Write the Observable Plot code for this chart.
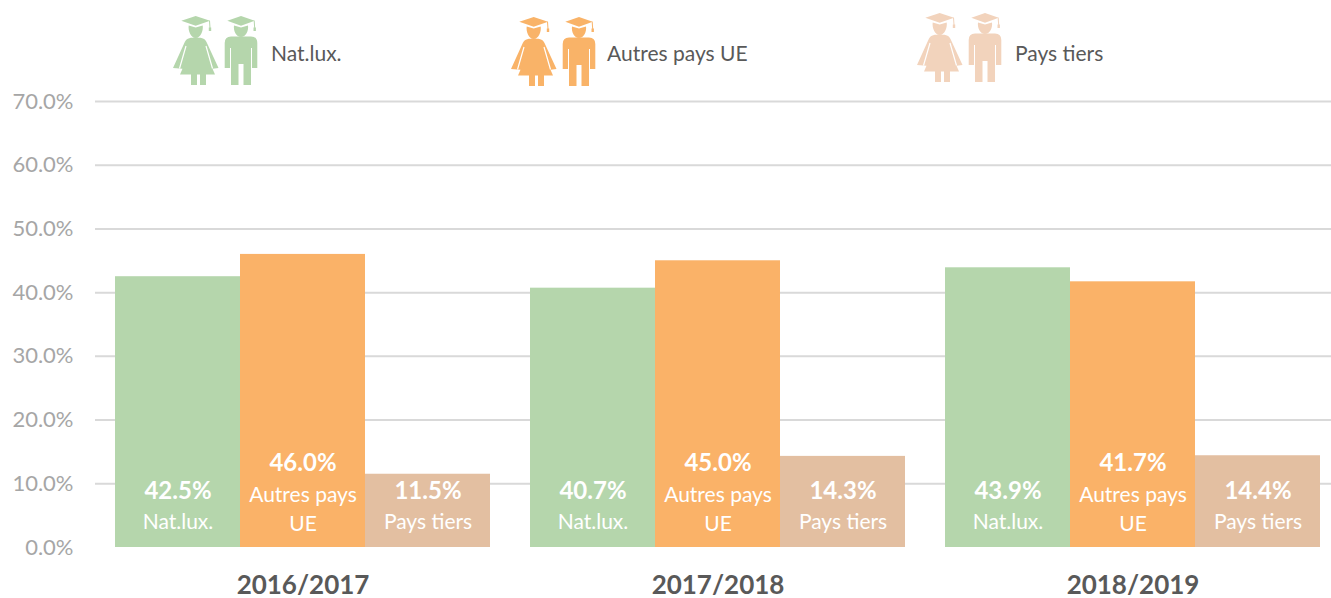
<!DOCTYPE html>
<html lang="fr">
<head>
<meta charset="utf-8">
<script src="https://cdn.jsdelivr.net/npm/d3@7"></script>
<script src="https://cdn.jsdelivr.net/npm/@observablehq/plot@0.6"></script>
<style>
html,body{margin:0;padding:0;background:#fff;overflow:hidden}
#chart{width:1331px;font-family:Lato,sans-serif}
#legend{position:relative;width:1331px;height:90px}
.item{position:absolute;left:0;top:0}
.item svg{position:absolute;overflow:visible}
.item span{position:absolute;font-size:21px;color:#595959;white-space:nowrap;line-height:26px}
#plot svg{display:block}
</style>
</head>
<body>
<div id="chart"><div id="legend"></div><div id="plot"></div></div>
<script>
const years = ["2016/2017", "2017/2018", "2018/2019"];
const categories = ["Nat.lux.", "Autres pays UE", "Pays tiers"];
const wrappedLabels = ["Nat.lux.", "Autres pays\nUE", "Pays tiers"];
const natLux = [42.5, 40.7, 43.9];
const autresUE = [46.0, 45.0, 41.7];
const paysTiers = [11.5, 14.3, 14.4];
const barColors = ["#B5D6AC", "#FAB268", "#E3BFA1"];
const legendColors = ["#B5D6AC", "#F9B368", "#F2D3BC"];
const yTicks = [0, 10, 20, 30, 40, 50, 60, 70];

const series = [natLux, autresUE, paysTiers];
const rows = years.flatMap((year, i) => categories.map((category, j) => ({
  year, category, label: wrappedLabels[j], value: series[j][i]
})));
const oneLine = rows.filter(d => !d.label.includes("\n"));
const twoLines = rows.filter(d => d.label.includes("\n"));
const pct = d => d.toFixed(1) + "%";
const gridRows = years.flatMap(year => yTicks.slice(1).map(tick => ({year, tick})));

const chart = Plot.plot({
  width: 1331,
  height: 508,
  marginTop: 11,
  marginBottom: 51,
  marginLeft: 93,
  marginRight: 0,
  style: {fontFamily: "Lato, sans-serif", background: "#fff"},
  x: {domain: categories, axis: null, padding: 0},
  fx: {domain: years, axis: null, paddingInner: 0.096, paddingOuter: 0.036, align: 0.667},
  y: {domain: [0, 70], axis: null},
  color: {domain: categories, range: barColors},
  marks: [
    Plot.ruleY(gridRows, {fx: "year", y: "tick", insetLeft: -20, insetRight: -20, stroke: "#D9D9D9", strokeWidth: 2}),
    Plot.axisY({ticks: yTicks, tickSize: 0, tickPadding: 42, tickFormat: pct, label: null,
      fontSize: 22, color: "#A6A6A6", fill: "#A6A6A6"}),
    Plot.barY(rows, {fx: "year", x: "category", y: "value", fill: "category"}),
    Plot.text(oneLine, {fx: "year", x: "category", y: 0, text: d => pct(d.value), dy: -56,
      fill: "#fff", fontSize: 24, fontWeight: 700}),
    Plot.text(oneLine, {fx: "year", x: "category", y: 0, text: "label", dy: -25,
      fill: "#fff", fontSize: 21}),
    Plot.text(twoLines, {fx: "year", x: "category", y: 0, text: d => pct(d.value), dy: -84,
      fill: "#fff", fontSize: 24, fontWeight: 700}),
    Plot.text(twoLines, {fx: "year", x: "category", y: 0, text: "label", dy: -40, lineHeight: 1.35,
      fill: "#fff", fontSize: 21}),
    Plot.axisFx({anchor: "bottom", tickSize: 0, tickPadding: 28, label: null,
      fontSize: 26, fontWeight: 700, color: "#595959", fill: "#595959"})
  ]
});
document.getElementById("plot").append(chart);

// Legend: graduate pair pictograms with their labels
const pairIcon = color => `
<path fill="${color}" d="M22.7 0L37 4.7 22.7 9.7 8.3 4.7Z"/>
<path fill="none" stroke="${color}" stroke-width="1" d="M36.5 4.7L37 12"/>
<rect x="35.8" y="11.5" width="2.4" height="3.5" fill="${color}"/>
<path fill="${color}" d="M15.7 9.5L22.7 11.5 29.7 9.5C30.5 15 27.5 22 22.7 22 17.9 22 14.9 15 15.7 9.5Z"/>
<path fill="${color}" d="M22.7 21.5C27 21.5 32 22 33.5 26L45.5 52 39.5 52.8 42 58.5H33V69H27V58.5H24V69H18V58.5H7L9.5 52.8 0 52 11.8 26C13.5 22 18.4 21.5 22.7 21.5Z"/>
<path fill="none" stroke="#fff" stroke-width="1.2" d="M13 30L6.5 52.5M33 30L39.5 52.5"/>
<path fill="${color}" d="M68 0L81.7 4.7 68 9.7 54.3 4.7Z"/>
<path fill="none" stroke="${color}" stroke-width="1" d="M81.2 4.7L81.7 12"/>
<rect x="80.5" y="11.5" width="2.4" height="3.5" fill="${color}"/>
<path fill="${color}" d="M61 9.5L68 11.5 75 9.5C75.8 15 72.8 21 68 21 63.2 21 60.2 15 61 9.5Z"/>
<path fill="${color}" d="M51.7 52V27Q51.7 20.5 58 20.5H78Q84.3 20.5 84.3 27V52H79V32H78V69H70.5V48H65.5V69H58V32H57V52Z"/>`;

const legendItems = [
  {iconX: 173, iconY: 16, textX: 271},
  {iconX: 511, iconY: 17, textX: 607},
  {iconX: 917, iconY: 13, textX: 1015}
];
const legend = document.getElementById("legend");
legendItems.forEach((it, i) => {
  const el = document.createElement("div");
  el.className = "item";
  el.innerHTML = `<svg width="85" height="69" viewBox="0 0 85 69" style="left:${it.iconX}px;top:${it.iconY}px">${pairIcon(legendColors[i])}</svg>
  <span style="left:${it.textX}px;top:40px">${categories[i]}</span>`;
  legend.append(el);
});
</script>
</body>
</html>
